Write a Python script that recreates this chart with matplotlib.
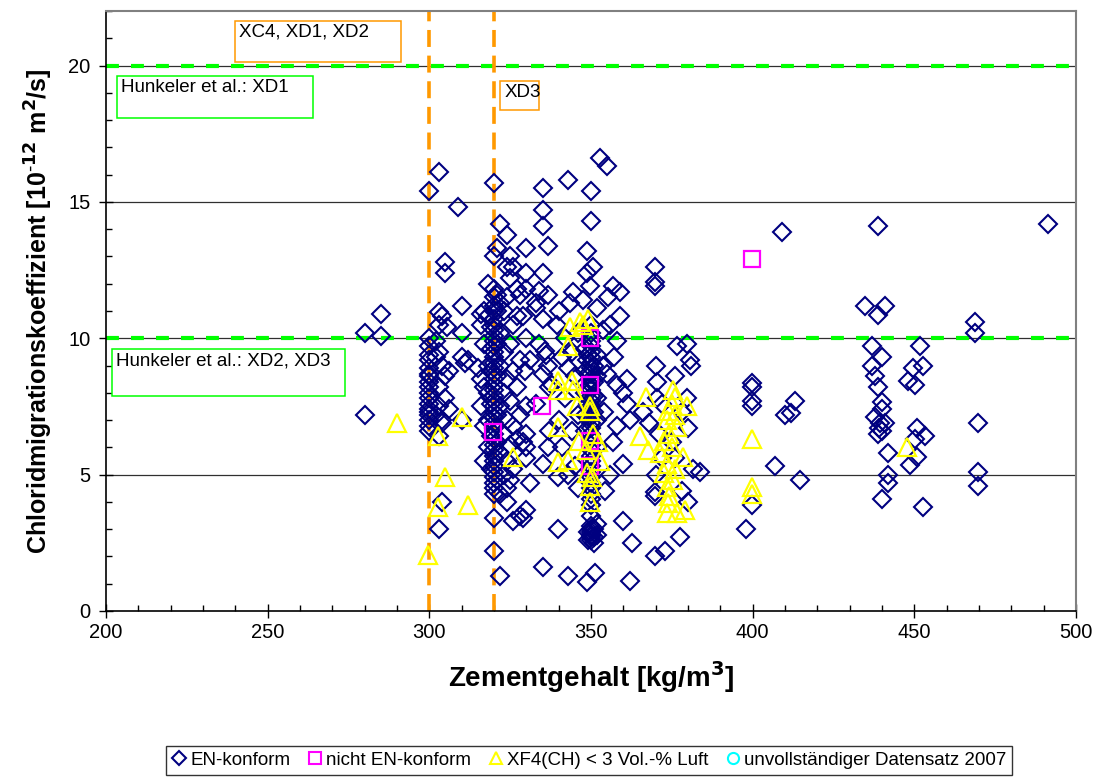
import matplotlib
matplotlib.use("Agg")
import matplotlib.pyplot as plt
from matplotlib.patches import Rectangle
from matplotlib.lines import Line2D

plt.rcParams['font.family'] = ['Liberation Sans', 'DejaVu Sans']

# ---------------- data ----------------
# EN-konform (diamonds): cement content [kg/m3], chloride migration coefficient [1e-12 m2/s]
en_x = [
    280, 280, 285, 285,
    300, 300, 300, 300, 300, 300, 300, 300, 300, 300, 300, 300, 300, 300, 300, 300, 300, 300, 300,
    303, 305, 305, 303, 304, 303, 305.5, 303, 302, 304, 305, 303, 305, 303, 302, 304, 303, 304, 303, 306, 306, 302, 304,
    309, 310, 310, 310, 311, 310, 312,
    318, 317, 318, 316, 317, 318, 316, 317, 318, 316, 318, 317, 318, 317, 315, 316,
    320, 320, 320, 320, 320, 320, 320, 320, 320, 320, 320, 320, 320, 320, 320, 320, 320, 320, 320, 320,
    320, 320, 320, 320, 320, 320, 320, 320, 320, 320, 320, 320, 320, 320, 320, 320, 320, 320, 320, 320, 320,
    319, 319, 319, 319, 319, 319, 321, 321, 321, 321, 321, 321,
    322, 324, 325, 324, 325, 321, 324, 323, 326, 322, 325, 323, 328, 322, 326, 324, 327, 323, 325, 322,
    328, 324, 326, 323, 327, 325, 322, 324, 326, 323, 325, 324, 322, 326, 328, 330, 322, 327, 327, 330,
    330, 329, 330, 324, 330, 329, 330, 331, 329.6, 330, 330, 330, 331, 329, 326, 328, 322, 321,
    335, 335, 335, 336.7, 335, 334, 336.7, 333, 335, 335.8, 336.7, 334, 336, 335, 337, 333, 337, 336.7, 335, 335, 333,
    343, 339.5, 344.5, 343.5, 339.8, 339.8, 343, 341, 343, 345, 342, 346, 340, 344, 341, 345, 342, 346, 340, 344, 338, 346, 343,
    350, 352.8, 350, 348.8, 350.6, 348.8, 349.7, 347.5, 351.9, 353.7, 348.8, 353.7,
    350, 350, 350, 350, 350, 350, 350, 350, 350, 350, 350, 350, 350, 350, 350, 350, 350, 350, 350, 350,
    350, 350, 350, 350, 350, 350, 350, 350, 350, 350, 350, 350, 350, 350, 350, 350, 350, 350, 350, 350,
    348.8, 351.3, 348, 348, 348, 348, 348, 352, 352, 352, 352, 352, 352, 352, 354.3,
    349, 349, 349, 349, 349, 351, 351, 351, 351, 351, 349, 351, 349, 351,
    355, 356.8, 359, 355.3, 356, 358, 358, 360, 361, 362, 356.8, 360, 360, 362.6, 362, 355, 357, 354, 358, 356, 361, 359,
    369.8, 369.8, 369.8, 370.4, 370.4, 369.8, 369.8, 373, 369.8, 368, 371, 372, 370, 366, 372, 370,
    376.6, 379.7, 380.6, 381, 379.7, 380, 381.5, 377.5, 383.7, 376, 378, 375, 378, 376, 380,
    399.8, 399.8, 399.8, 399.8, 413, 410, 412, 407, 414.7, 399.8, 398, 409,
    438.8, 434.8, 441, 438.8, 437, 440, 437, 437.9, 438.8, 440, 440, 437.9, 439.4, 441, 438.8, 441.9, 441.9, 441.9, 440, 439, 440,
    451.8, 449.6, 452.7, 448, 450.2, 450.8, 453.3, 450.2, 448.7, 450.8, 452.7,
    468.8, 468.8, 469.8, 469.8, 469.8,
    491.4,
]
en_y = [
    7.2, 10.2, 10.9, 10.1,
    15.4, 10.0, 9.7, 9.4, 9.2, 8.9, 8.7, 8.4, 8.2, 8.0, 7.8, 7.6, 7.4, 7.2, 7.0, 6.8, 6.6, 7.3, 8.6,
    16.1, 12.8, 12.4, 10.95, 10.8, 10.5, 10.4, 9.5, 9.3, 9.0, 8.6, 8.2, 7.8, 7.5, 7.2, 6.9, 6.4, 4.0, 3.0, 8.8, 7.4, 9.9, 7.0,
    14.8, 11.2, 10.2, 9.3, 9.1, 7.0, 9.2,
    12.0, 11.0, 10.8, 10.5, 9.8, 9.0, 8.5, 8.2, 8.0, 7.5, 7.0, 6.8, 6.0, 5.5, 8.9, 10.9,
    15.7, 13.0, 11.8, 11.5, 11.2, 11.0, 10.7, 10.5, 10.3, 10.1, 9.9, 9.7, 9.5, 9.3, 9.1, 8.9, 8.7, 8.5, 8.3, 8.1,
    7.9, 7.7, 7.5, 7.3, 7.1, 6.9, 6.7, 6.5, 6.3, 6.1, 5.9, 5.7, 5.5, 5.3, 5.1, 4.9, 4.7, 4.5, 4.3, 3.4, 2.2,
    10.4, 9.6, 8.8, 7.6, 6.4, 5.2, 11.0, 9.8, 8.6, 7.2, 6.2, 4.8,
    14.2, 13.8, 13.0, 12.6, 12.2, 11.6, 11.5, 11.0, 10.5, 10.2, 9.8, 9.5, 9.2, 9.0, 8.8, 8.5, 8.2, 8.0, 7.7, 7.5,
    7.2, 7.0, 6.8, 6.5, 6.3, 6.1, 5.8, 5.5, 5.2, 5.0, 4.8, 4.5, 4.3, 3.3, 3.5, 3.7, 1.3, 10.8, 11.8, 12.4,
    13.3, 6.2, 5.6, 4.0, 11.8, 10.8, 10.0, 9.2, 8.8, 7.5, 6.5, 6.0, 4.7, 3.4, 12.6, 11.6, 11.3, 13.3,
    15.5, 14.7, 14.1, 13.4, 12.4, 11.75, 11.6, 11.1, 10.7, 9.55, 9.0, 9.8, 9.4, 8.7, 8.2, 7.6, 6.6, 6.0, 5.4, 1.6, 11.3,
    15.8, 10.5, 11.7, 11.3, 4.9, 3.0, 1.3, 9.3, 8.9, 8.6, 7.8, 7.2, 7.0, 6.6, 6.0, 5.3, 10.0, 10.2, 11.0, 9.5, 8.3, 4.5, 5.0,
    15.4, 16.6, 14.3, 13.2, 12.6, 12.4, 11.9, 11.4, 11.1, 10.3, 9.2, 9.0,
    10.5, 10.2, 9.9, 9.7, 9.5, 9.3, 9.1, 8.9, 8.7, 8.5, 8.3, 8.1, 7.9, 7.7, 7.5, 7.3, 7.1, 6.9, 6.7, 6.5,
    6.3, 6.1, 5.9, 5.7, 5.5, 5.3, 5.1, 4.9, 4.7, 4.5, 4.3, 4.1, 3.9, 3.5, 3.1, 3.0, 2.9, 2.8, 2.7, 2.6,
    1.05, 1.4, 9.6, 8.8, 8.0, 7.2, 6.6, 9.4, 8.6, 7.8, 7.0, 6.0, 3.2, 2.8, 4.4,
    9.4, 8.7, 8.2, 7.6, 7.1, 9.0, 8.4, 7.9, 7.3, 2.5, 2.9, 3.0, 2.6, 2.7,
    16.3, 11.9, 11.7, 11.5, 10.5, 9.9, 8.3, 8.0, 7.6, 7.0, 6.2, 5.4, 3.3, 2.5, 1.1, 8.7, 9.3, 7.3, 6.8, 5.0, 8.5, 10.8,
    12.6, 12.05, 11.9, 8.4, 7.8, 4.2, 4.35, 2.2, 2.0, 6.9, 6.5, 5.6, 5.0, 7.3, 7.6, 9.0,
    9.7, 9.8, 9.2, 9.0, 7.8, 6.7, 5.2, 2.7, 5.1, 8.6, 7.3, 6.2, 4.4, 5.6, 4.0,
    8.35, 8.2, 7.7, 7.5, 7.7, 7.2, 7.25, 5.3, 4.8, 3.9, 3.0, 13.9,
    14.1, 11.2, 11.2, 10.85, 9.7, 9.3, 9.0, 8.6, 8.2, 7.65, 7.4, 7.1, 6.9, 6.9, 6.5, 5.8, 5.0, 4.7, 4.1, 6.7, 6.6,
    9.7, 8.9, 9.0, 8.45, 8.3, 6.7, 6.4, 6.3, 5.35, 5.65, 3.8,
    10.6, 10.2, 6.9, 5.1, 4.6,
    14.2,
]

# nicht EN-konform (squares)
nen_x = [319.7, 334.9, 349.7, 349.7, 349.7, 349.7, 399.8]
nen_y = [6.55, 7.5, 8.3, 10.0, 6.25, 5.3, 12.9]

# XF4(CH) < 3 Vol.-% Luft (triangles)
xf4_x = [290, 299.6, 302.7, 305, 302.7, 310, 312, 325.9,
         343.5, 346.6, 349, 347.5, 343, 339.8, 344, 339.8, 344.5, 345.7, 349.7, 349.7, 339.8, 346.3,
         350.6, 352.2, 348.5, 352.8, 339.8, 343, 348.8, 350.3, 349.7, 349.7,
         367, 365, 367.5, 375.4, 376, 379.7, 373.8, 373.5, 376.6, 372.5, 375.1, 371.4, 378.5, 373.5,
         372.5, 375.4, 373.5, 373.8, 373.5, 376.6, 379.1, 375, 376, 374, 376, 374,
         399.8, 399.8, 399.8, 447.8]
xf4_y = [6.9, 2.05, 6.4, 4.9, 3.8, 7.1, 3.9, 5.65,
         10.4, 10.6, 10.7, 10.5, 9.7, 8.45, 8.45, 8.1, 8.1, 7.5, 7.5, 7.35, 6.75, 6.25,
         6.5, 6.2, 5.9, 5.5, 5.45, 5.55, 5.05, 4.9, 4.6, 4.0,
         7.85, 6.4, 5.9, 8.1, 7.85, 7.5, 7.35, 7.0, 6.75, 6.25, 6.0, 5.8, 5.65, 5.4,
         5.05, 4.8, 4.55, 3.95, 3.6, 3.6, 3.7, 7.6, 7.2, 6.5, 5.2, 4.2,
         6.3, 4.55, 4.3, 6.0]

# unvollstaendiger Datensatz 2007 (circles) - none visible
inc_x = []
inc_y = []

hunkeler_limits = [10, 20]
class_limits = [300, 320]

x_ticks = [200, 250, 300, 350, 400, 450, 500]
y_ticks = [0, 5, 10, 15, 20]

# ---------------- figure ----------------
fig = plt.figure(figsize=(11.05, 7.78), dpi=100)
ax = fig.add_axes([0.0959, 0.2147, 0.8779, 0.7712])
ax.set_xlim(200, 500)
ax.set_ylim(0, 22)

# horizontal grid
for yv in y_ticks[1:]:
    ax.axhline(yv, color='#303030', lw=0.9, zorder=1)

# limit lines
for yv in hunkeler_limits:
    ax.axhline(yv, color='#00FF00', lw=3, linestyle=(0, (3.1, 2.9)), zorder=2)
for xv in class_limits:
    ax.axvline(xv, color='#FF9900', lw=2.6, linestyle=(0, (4.7, 2.4)), zorder=2)

ms_d = 8.8
ax.plot(en_x, en_y, linestyle='none', marker='D', ms=ms_d, mfc='none', mec='#000080', mew=1.5, zorder=3)
ax.plot(nen_x, nen_y, linestyle='none', marker='s', ms=12, mfc='none', mec='#FF00FF', mew=1.6, zorder=4)
ax.plot(xf4_x, xf4_y, linestyle='none', marker='^', ms=12.5, mfc='none', mec='#FFFF00', mew=1.6, zorder=5)
ax.plot(inc_x, inc_y, linestyle='none', marker='o', ms=10, mfc='none', mec='#00FFFF', mew=1.6, zorder=5)

# annotation boxes
def box(x0, x1, y0, y1, ec, text):
    ax.add_patch(Rectangle((x0, y0), x1 - x0, y1 - y0, fc='white', ec=ec, lw=1.1, zorder=6))
    ax.text(x0 + 1.3, y1 - 0.12, text, ha='left', va='top', fontsize=13.5, zorder=7)

box(239.9, 291.2, 20.12, 21.65, '#FF9900', 'XC4, XD1, XD2')
box(203.4, 264.0, 18.06, 19.63, '#00FF00', 'Hunkeler et al.: XD1')
box(322.0, 334.0, 18.36, 19.45, '#FF9900', 'XD3')
box(201.9, 273.9, 7.9, 9.6, '#00FF00', 'Hunkeler et al.: XD2, XD3')

# axes style
for s in ['left', 'bottom']:
    ax.spines[s].set_color('black')
    ax.spines[s].set_linewidth(1.2)
for s in ['top', 'right']:
    ax.spines[s].set_color('#808080')
    ax.spines[s].set_linewidth(1.5)

ax.set_xticks(x_ticks)
ax.set_yticks(y_ticks)
ax.set_xticks(list(range(200, 501, 10)), minor=True)
ax.set_yticks(list(range(0, 23, 1)), minor=True)
ax.tick_params(axis='both', which='major', direction='inout', length=10, width=1, labelsize=14.5, color='black')
ax.tick_params(axis='both', which='minor', direction='in', length=4.5, width=1, color='black')
ax.tick_params(axis='x', which='major', pad=4)
ax.tick_params(axis='y', which='major', pad=6)

ax.set_xlabel('Zementgehalt [kg/m$^\\mathbf{3}$]', fontsize=20, fontweight='bold', labelpad=12)
ax.set_ylabel('Chloridmigrationskoeffizient [10$^{\\mathbf{\\text{-}12}}$ m$^\\mathbf{2}$/s]', fontsize=18,
              fontweight='bold', labelpad=10)

handles = [
    Line2D([], [], linestyle='none', marker='D', ms=7, mfc='none', mec='#000080', mew=1.5),
    Line2D([], [], linestyle='none', marker='s', ms=9, mfc='none', mec='#FF00FF', mew=1.5),
    Line2D([], [], linestyle='none', marker='^', ms=9, mfc='none', mec='#FFFF00', mew=1.5),
    Line2D([], [], linestyle='none', marker='o', ms=8, mfc='none', mec='#00FFFF', mew=1.5),
]
labels = ['EN-konform', 'nicht EN-konform', 'XF4(CH) < 3 Vol.-% Luft', 'unvollständiger Datensatz 2007']
leg = fig.legend(handles, labels, loc='center', bbox_to_anchor=(0.533, 0.0225), ncol=4, fontsize=13.5,
                 frameon=True, fancybox=False, edgecolor='black', handlelength=0.8, handletextpad=0.2,
                 columnspacing=0.9, borderpad=0.3, borderaxespad=0)
leg.get_frame().set_linewidth(1.0)

fig.savefig('out.png', dpi=100)
